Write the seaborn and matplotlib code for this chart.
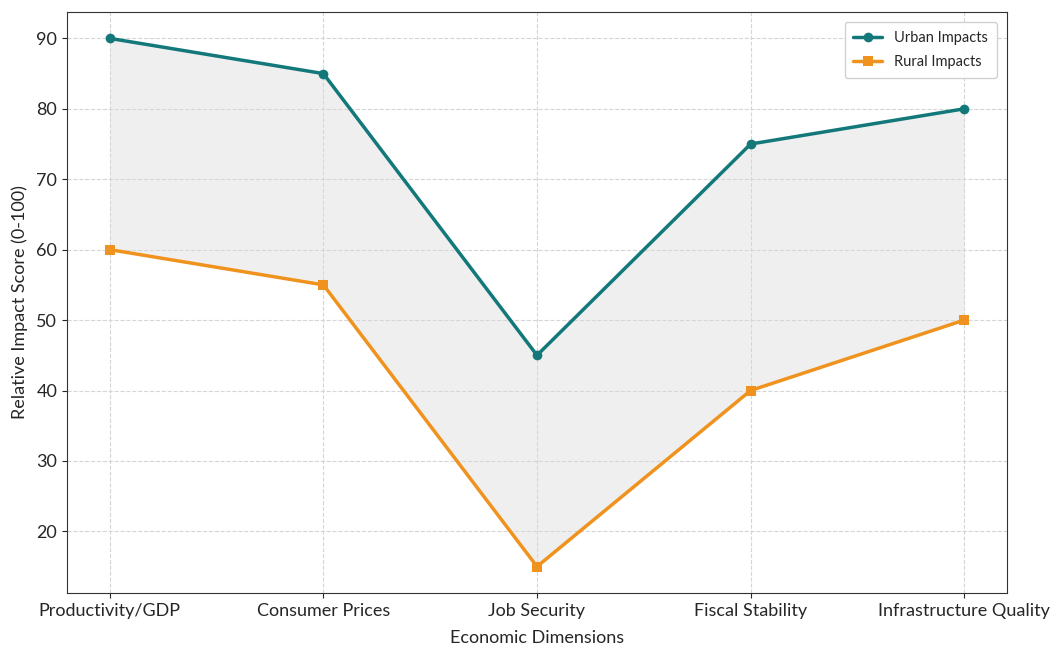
import pandas as pd
import numpy as np
import matplotlib.pyplot as plt
import seaborn as sns

# data
dimensions = ['Productivity/GDP', 'Consumer Prices', 'Job Security', 'Fiscal Stability', 'Infrastructure Quality']
urban = [90, 85, 45, 75, 80]
rural = [60, 55, 15, 40, 50]

df = pd.DataFrame({'Dimension': dimensions, 'Urban Impacts': urban, 'Rural Impacts': rural})
long = df.melt(id_vars='Dimension', var_name='Series', value_name='Score')

sns.set_style('ticks')
plt.rcParams['font.family'] = ['Lato', 'DejaVu Sans']

fig, ax = plt.subplots(figsize=(10.55, 6.47), dpi=100)
fig.subplots_adjust(left=0.0635, right=0.9545, top=0.9815, bottom=0.0835)

xpos = np.arange(len(dimensions))
ax.fill_between(xpos, df['Rural Impacts'], df['Urban Impacts'], color='#d9d9d9', alpha=0.4, lw=0)

sns.lineplot(data=long, x='Dimension', y='Score', hue='Series', style='Series',
             markers={'Urban Impacts': 'o', 'Rural Impacts': 's'}, dashes=False,
             palette={'Urban Impacts': '#13787a', 'Rural Impacts': '#f0931e'},
             linewidth=2.5, markersize=7, markeredgewidth=0, ax=ax, zorder=3)

ax.grid(True, linestyle='--', color='#d5d5d5', linewidth=0.8)
ax.set_axisbelow(True)
ax.set_xlabel('Economic Dimensions', fontsize=13, labelpad=8)
ax.set_ylabel('Relative Impact Score (0-100)', fontsize=13, labelpad=6)
ax.tick_params(labelsize=13)
for s in ax.spines.values():
    s.set_color('#333333')

ax.legend(loc='upper right', fontsize=10.5, title=None, framealpha=0.9,
          borderaxespad=0.7, labelspacing=0.7, borderpad=0.6)

fig.savefig('out.png', dpi=100)
